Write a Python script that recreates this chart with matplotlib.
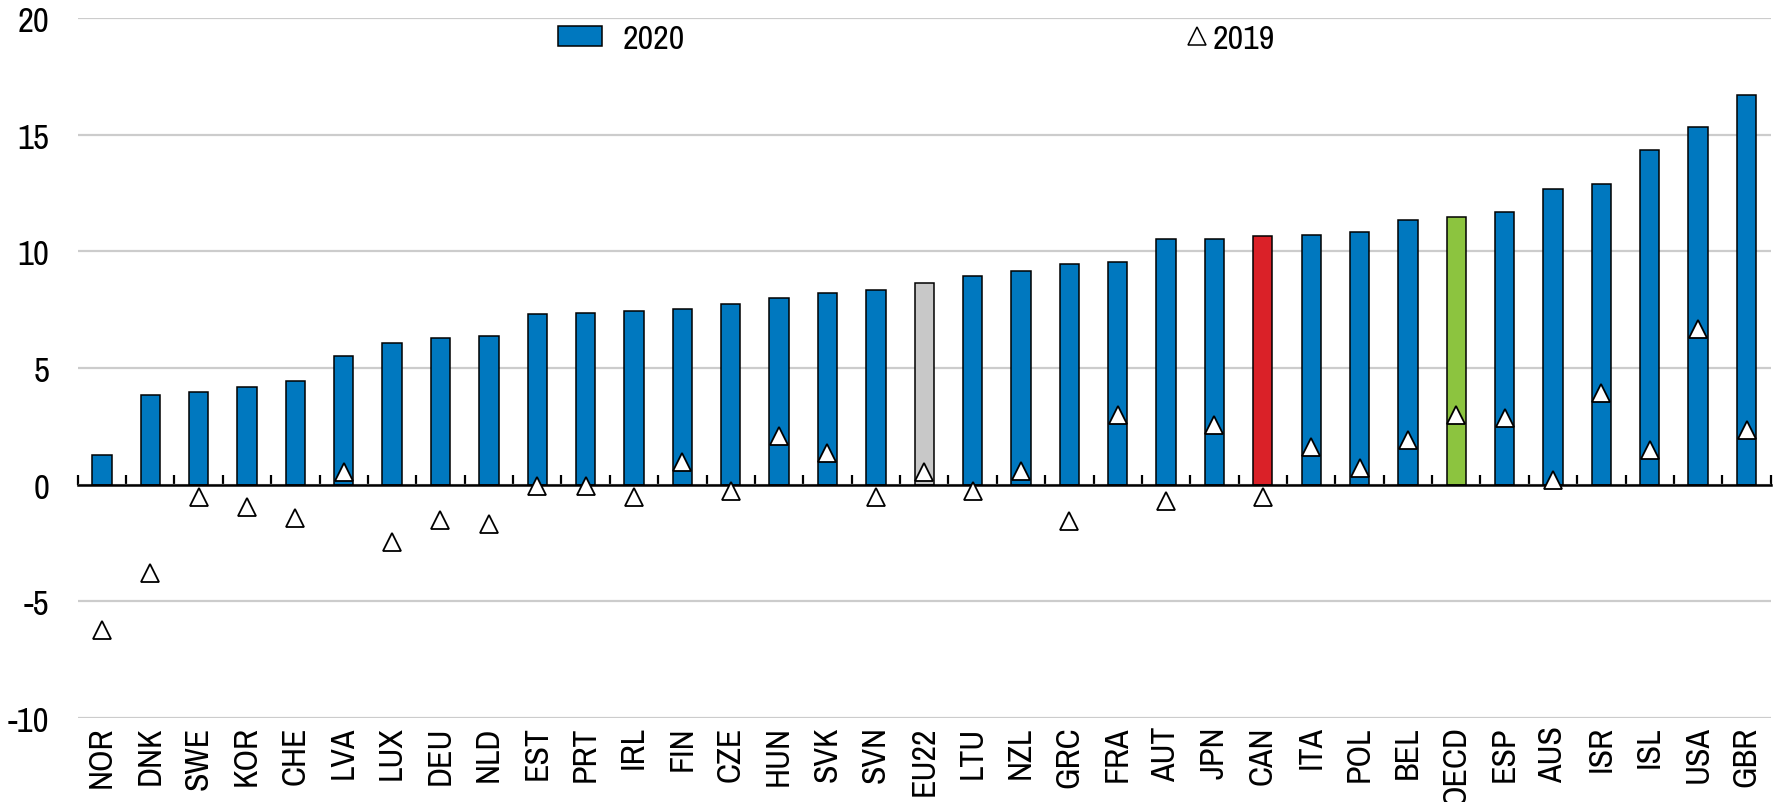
import numpy as np
import matplotlib.pyplot as plt
import matplotlib.font_manager as fm
from matplotlib.lines import Line2D
from matplotlib.patches import Patch

# Prefer a narrow sans face (the original uses Arial Narrow); fall back to Liberation Sans
def pick_narrow():
    regular = [f for f in fm.fontManager.ttflist
               if f.style == 'normal' and f.weight in (400, 'normal', 'regular', 'book')]
    for f in regular:
        if 'Narrow' in f.name:
            return f
    for f in regular:
        if 'Condensed' in f.name or f.stretch in ('condensed', 'semi-condensed'):
            return f
    return None

narrow = pick_narrow()
if narrow is not None:
    plt.rcParams['font.family'] = [narrow.name, 'Liberation Sans', 'DejaVu Sans']
    plt.rcParams['font.stretch'] = narrow.stretch
    if 'Narrow' in narrow.name:
        ysize, xsize, legsize = 22.5, 23, 22.5
    else:
        ysize, xsize, legsize = 20.5, 19, 20.5
else:
    plt.rcParams['font.family'] = ['Liberation Sans', 'DejaVu Sans']
    ysize, xsize, legsize = 20, 18.5, 20
ysize, xsize, legsize = ysize * 1.12, xsize * 1.06, legsize * 1.09
plt.rcParams['axes.unicode_minus'] = False

# Data
countries = ['NOR', 'DNK', 'SWE', 'KOR', 'CHE', 'LVA', 'LUX', 'DEU', 'NLD', 'EST',
             'PRT', 'IRL', 'FIN', 'CZE', 'HUN', 'SVK', 'SVN', 'EU22', 'LTU', 'NZL',
             'GRC', 'FRA', 'AUT', 'JPN', 'CAN', 'ITA', 'POL', 'BEL', 'OECD', 'ESP',
             'AUS', 'ISR', 'ISL', 'USA', 'GBR']
values_2020 = [1.27, 3.85, 3.98, 4.17, 4.43, 5.53, 6.07, 6.27, 6.36, 7.32,
               7.36, 7.44, 7.52, 7.73, 8.0, 8.2, 8.35, 8.63, 8.95, 9.16,
               9.45, 9.55, 10.52, 10.54, 10.67, 10.72, 10.82, 11.34, 11.48, 11.7,
               12.67, 12.9, 14.36, 15.35, 16.7]
values_2019 = [-6.22, -3.8, -0.55, -0.96, -1.44, 0.56, -2.45, -1.52, -1.7, -0.08,
               -0.08, -0.52, 0.95, -0.28, 2.08, 1.35, -0.52, 0.56, -0.28, 0.58,
               -1.58, 3.0, -0.7, 2.56, -0.55, 1.6, 0.7, 1.93, 3.0, 2.86,
               0.18, 3.93, 1.5, 6.68, 2.34]

blue = '#0078BF'
highlight = {'EU22': '#C8C8C8', 'CAN': '#DA2128', 'OECD': '#8CC43F'}
colors = [highlight.get(c, blue) for c in countries]

x = np.arange(len(countries))

fig = plt.figure(figsize=(17.79, 8.03), dpi=100)
ax = fig.add_axes([0.04368, 0.10498, 0.95166, 0.87098])

# Bars and 2019 markers
ax.bar(x, values_2020, width=0.4, color=colors, edgecolor='black', linewidth=1.1, zorder=2)
ax.plot(x, values_2019, linestyle='none', marker='^', markersize=12.5,
        markerfacecolor='white', markeredgecolor='black', markeredgewidth=1.3, zorder=4)

# Axes styling
ax.set_xlim(-0.5, len(countries) - 0.5)
ax.set_ylim(-10, 20)
ax.set_yticks(np.arange(-10, 21, 5))
ax.yaxis.grid(True, color='#CCCCCC', linewidth=1.6)
ax.set_axisbelow(True)
ax.tick_params(axis='y', length=0, pad=20.5, labelsize=ysize)

for side in ['left', 'right', 'top']:
    ax.spines[side].set_visible(False)
ax.spines['bottom'].set_position(('data', 0))
ax.spines['bottom'].set_linewidth(1.8)
ax.spines['bottom'].set_zorder(3)

# Tick marks at category boundaries on the zero line
ax.set_xticks([])
ax.set_xticks(np.arange(-0.5, len(countries), 1), minor=True)
ax.tick_params(axis='x', which='minor', direction='in', length=7, width=1.6)

# Category labels at the bottom
sec = ax.secondary_xaxis('bottom')
sec.set_xticks(x, labels=countries, rotation=90)
sec.tick_params(length=0, pad=5.5, labelsize=xsize)
sec.spines['bottom'].set_visible(False)

# Legends
leg1 = ax.legend(handles=[Patch(facecolor=blue, edgecolor='black', linewidth=1.1)],
                 labels=['2020'], loc='center left', bbox_to_anchor=(0.2837, 0.9704),
                 frameon=False, fontsize=legsize, borderpad=0, borderaxespad=0,
                 handlelength=1.28, handleheight=0.53, handletextpad=0.62)
ax.add_artist(leg1)
ax.legend(handles=[Line2D([0], [0], linestyle='none', marker='^', markersize=13,
                          markerfacecolor='white', markeredgecolor='black', markeredgewidth=1.1)],
          labels=['2019'], loc='center left', bbox_to_anchor=(0.6552, 0.9704),
          frameon=False, fontsize=legsize, borderpad=0, borderaxespad=0,
          handlelength=0.6, handletextpad=0.15)

fig.savefig('out.png', dpi=100)
